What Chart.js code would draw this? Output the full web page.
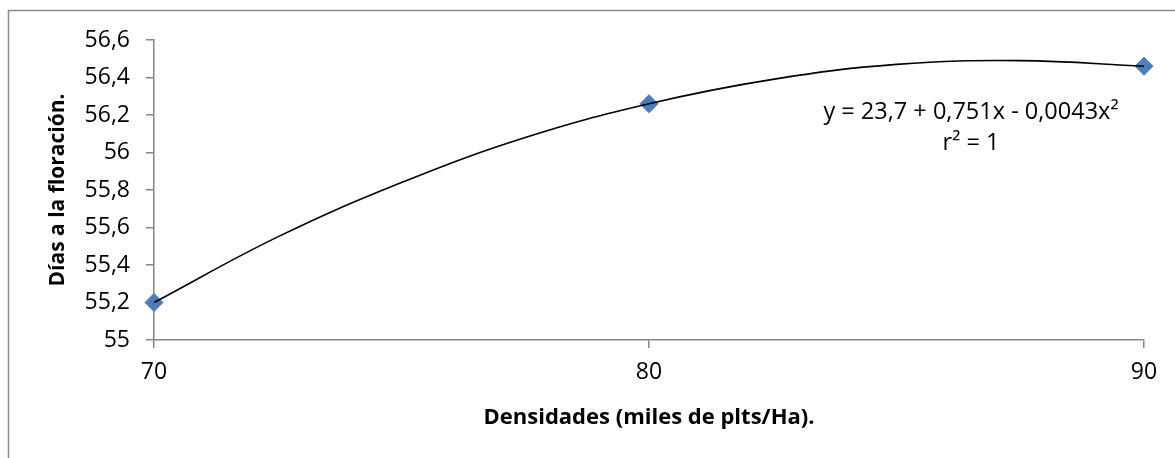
<!DOCTYPE html>
<html>
<head>
<meta charset="utf-8">
<script src="https://cdn.jsdelivr.net/npm/chart.js@4.4.1/dist/chart.umd.min.js"></script>
<style>
  html, body { margin: 0; padding: 0; background: #fff; }
  #wrap { width: 1175px; height: 458px; position: relative; }
</style>
</head>
<body>
<div id="wrap"><canvas id="myChart"></canvas></div>
<script>
// observed points
const densidades = [70, 80, 90];
const diasFloracion = [55.2, 56.26, 56.46];

// polynomial trendline
const trendX = [70, 72.5, 75, 77.5, 80, 82.5, 85, 87.5, 90];
const trendY = [55.2, 55.55, 55.84, 56.08, 56.26, 56.39, 56.47, 56.49, 56.46];

const equationLines = ['y = 23,7 + 0,751x - 0,0043x²', 'r² = 1'];
const xTitle = 'Densidades (miles de plts/Ha).';
const yTitle = 'Días a la floración.';

const FONT = '"Open Sans", Lato, sans-serif';
const AXIS_GREY = '#868686';

const fmt = (v) => String(Math.round(v * 10) / 10).replace('.', ',');

// frame around the chart + equation label
const decor = {
  id: 'decor',
  beforeDraw(chart) {
    const ctx = chart.ctx;
    ctx.save();
    ctx.strokeStyle = '#8a8a8a';
    ctx.lineWidth = 1.5;
    ctx.strokeRect(8.5, 10.5, 1200, 500);
    ctx.restore();
  },
  afterDraw(chart) {
    const ctx = chart.ctx;
    ctx.save();
    ctx.fillStyle = '#000';
    ctx.font = '23.5px ' + FONT;
    ctx.textAlign = 'center';
    ctx.textBaseline = 'middle';
    ctx.fillText(equationLines[0], 971, 112);
    ctx.fillText(equationLines[1], 971, 143);
    ctx.restore();
  }
};

const ctx = document.getElementById('myChart').getContext('2d');
const myChart = new Chart(ctx, {
  type: 'scatter',
  data: {
    datasets: [
      {
        label: 'tendencia',
        data: trendX.map((x, i) => ({ x: x, y: trendY[i] })),
        showLine: true,
        borderColor: '#000',
        borderWidth: 1.6,
        pointRadius: 0,
        tension: 0.4,
        fill: false,
        clip: false,
        order: 0
      },
      {
        label: 'Días a la floración',
        data: densidades.map((x, i) => ({ x: x, y: diasFloracion[i] })),
        pointStyle: 'rectRot',
        pointRadius: 9,
        backgroundColor: '#4a7ebb',
        borderColor: '#4678b5',
        borderWidth: 1,
        clip: false,
        order: 1
      }
    ]
  },
  options: {
    responsive: true,
    maintainAspectRatio: false,
    animation: false,
    layout: { padding: { left: 0, top: 40, right: 31, bottom: 0 } },
    plugins: {
      legend: { display: false },
      tooltip: { enabled: false }
    },
    scales: {
      x: {
        type: 'linear',
        min: 70,
        max: 90,
        ticks: {
          stepSize: 10,
          color: '#000',
          font: { family: FONT, size: 23 },
          padding: 11,
          callback: (v) => fmt(v)
        },
        grid: { drawOnChartArea: false, tickLength: 8, color: AXIS_GREY, lineWidth: 1.5 },
        border: { color: AXIS_GREY, width: 1.5 },
        title: {
          display: true,
          text: xTitle,
          color: '#000',
          font: { family: FONT, size: 22, weight: 'bold' },
          padding: { top: 0, bottom: 27 }
        },
        afterFit: (scale) => { scale.height = 118; }
      },
      y: {
        min: 55,
        max: 56.6,
        ticks: {
          stepSize: 0.2,
          color: '#000',
          font: { family: FONT, size: 23 },
          padding: 16,
          callback: (v) => fmt(v)
        },
        grid: { drawOnChartArea: false, tickLength: 8, color: AXIS_GREY, lineWidth: 1.5 },
        border: { color: AXIS_GREY, width: 1.5 },
        title: {
          display: true,
          text: yTitle,
          color: '#000',
          font: { family: FONT, size: 21, weight: 'bold' },
          padding: { top: 45, bottom: 0 }
        },
        afterFit: (scale) => { scale.width = 154; }
      }
    }
  },
  plugins: [decor]
});
</script>
</body>
</html>
